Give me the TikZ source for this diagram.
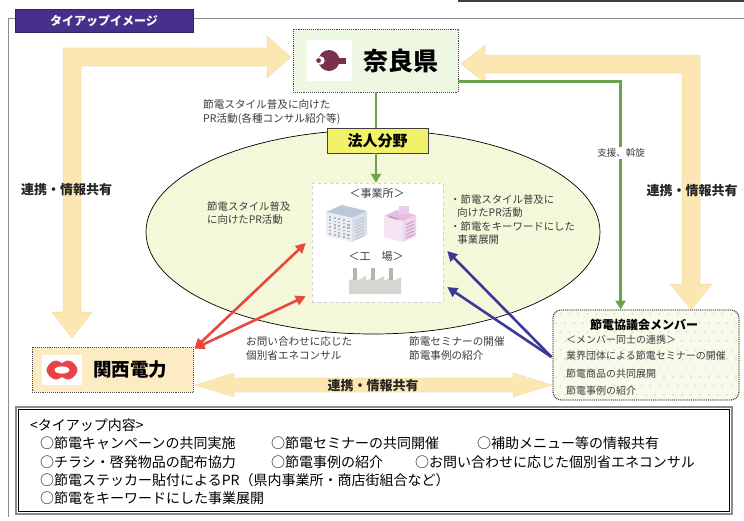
\documentclass[tikz,border=0pt]{standalone}
\usepackage{fontspec}
\setmainfont{Noto Sans CJK JP}
\usetikzlibrary{arrows.meta,calc,shapes.geometric}

\definecolor{framegray}{HTML}{8C8C8C}
\definecolor{tabpurple}{HTML}{46308C}
\definecolor{narafill}{HTML}{EEF7E2}
\definecolor{naramark}{HTML}{7A3150}
\definecolor{kanfill}{HTML}{FCEBC3}
\definecolor{kanred}{HTML}{E8424A}
\definecolor{hojinfill}{HTML}{F2F26A}
\definecolor{ellfill}{HTML}{F4F8D8}
\definecolor{kyofill}{HTML}{F8FAEC}
\definecolor{kyodot}{HTML}{E0E8B4}
\definecolor{blockfill}{HTML}{FCE7B3}
\definecolor{blockedge}{HTML}{F1CF8A}
\definecolor{greenline}{HTML}{6BA34A}
\definecolor{redline}{HTML}{E9483C}
\definecolor{blueline}{HTML}{3B3A96}
\definecolor{txtgray}{HTML}{3C3C3C}
\definecolor{bldblue}{HTML}{A9BAD3}
\definecolor{bldpink}{HTML}{E3B6E0}
\definecolor{factgray}{HTML}{D4D6D2}

% a field of small staggered dots: x0, y0, x1, y1, spacing, colour
\newcommand\dotgrid[6]{%
  \foreach \yy [count=\rr] in {#2,\the\numexpr#2+#5\relax,...,#4}{%
    \foreach \xx in {#1,\the\numexpr#1+#5\relax,...,#3}{%
      \fill[#6] ({\xx+#5/2*mod(\rr,2)},\yy) circle (1.05pt);}}}

\tikzset{
  lbl/.style={font=\fontsize{10.6}{13.6}\selectfont, text=txtgray, align=left, inner sep=0pt},
  share/.style={font=\fontsize{13}{15}\selectfont\bfseries, text=black!85, inner sep=0pt},
  orgbox/.style={draw=black!70, densely dotted, line width=0.9pt},
  block/.style={fill=blockfill, draw=blockedge, densely dotted, line width=0.6pt},
  greenarr/.style={draw=greenline, line width=2.8pt},
  redarr/.style={draw=redline, line width=2.6pt,
    {Triangle[length=10pt,width=10pt]}-{Triangle[length=10pt,width=10pt]}},
  bluearr/.style={draw=blueline, line width=2.6pt, -{Triangle[length=10pt,width=10pt]}},
  item/.style={font=\fontsize{14}{16}\selectfont, anchor=west, inner sep=0pt},
}

\begin{document}
\begin{tikzpicture}[x=1pt,y=-1pt]
\useasboundingbox (0,0) rectangle (744,520);
\fill[white] (0,0) rectangle (744,520);

% outer frame and title tab
\draw[black!75, line width=1.4pt] (458,1) -- (744,1);
\draw[framegray, line width=0.8pt] (8,517) -- (8,18) -- (744,18);
\node[fill=tabpurple, draw=tabpurple!70!black, minimum width=178pt, minimum height=23pt,
      inner sep=0pt, text=white, font=\fontsize{12}{14}\selectfont\bfseries]
      (title) at (104,20.5) {タイアップイメージ};

% wide cooperation arrows
\filldraw[block] (63,312) -- (63,48) -- (267,48) -- (267,36) -- (291,57) -- (267,78)
  -- (267,66) -- (81,66) -- (81,312) -- (92,312) -- (72,338) -- (52,312) -- cycle;
\filldraw[block] (461,64) -- (485,45) -- (485,55) -- (700,55) -- (700,284) -- (712,284)
  -- (691,310) -- (670,284) -- (682,284) -- (682,73) -- (485,73) -- (485,83) -- cycle;
\filldraw[block] (195,385) -- (234,373) -- (234,378) -- (513,378) -- (513,373) -- (552,385)
  -- (513,397) -- (513,392) -- (234,392) -- (234,397) -- cycle;

% corporate field
\fill[ellfill] (373,232) ellipse [x radius=227pt, y radius=102pt];
\begin{scope}
  \clip (373,232) ellipse [x radius=227pt, y radius=102pt];
  \dotgrid{140}{130}{610}{340}{12}{white}
\end{scope}
\draw[black, line width=0.7pt] (373,232) ellipse [x radius=227pt, y radius=102pt];

% Nara prefecture
\node[orgbox, fill=narafill, minimum width=165pt, minimum height=63pt] (nara) at (375.5,60.5) {};
\fill[white] (307,40) rectangle (352,81);
\fill[naramark] (329,60.5) circle (10.5pt);
\fill[naramark] (338,57.5) rectangle (346,63.5);
\fill[white] (320.5,60.5) circle (4.2pt);
\fill[naramark] (318.6,60.5) circle (2.4pt);
\node[font=\fontsize{25}{27}\selectfont\bfseries, inner sep=0pt] (naratxt) at (401,61) {奈良県};

% Kansai Electric Power
\node[orgbox, fill=kanfill, minimum width=161pt, minimum height=45pt] (kansai) at (112.5,369.5) {};
\fill[white] (42,355) rectangle (82,385);
\fill[kanred] plot[smooth cycle, tension=0.6] coordinates {(46.5,370) (51,362.5) (57,360.5)
  (62,363) (67,360.5) (73,362.5) (77.5,370) (73,377.5) (67,379.5) (62,377) (57,379.5) (51,377.5)};
\fill[white] (62,370) ellipse [x radius=7.5pt, y radius=3.6pt];
\node[font=\fontsize{18.5}{20}\selectfont\bfseries, inner sep=0pt] (kantxt) at (130,370) {関西電力};

% council members
\node[orgbox, fill=kyofill, rounded corners=8pt, minimum width=186pt, minimum height=90pt] (kyogi) at (646,355) {};
\begin{scope}
  \clip[rounded corners=8pt] (554,311) rectangle (738,399);
  \dotgrid{556}{314}{740}{400}{9}{kyodot}
\end{scope}
\draw[black!70, densely dotted, line width=0.9pt, rounded corners=8pt] (553,310) rectangle (739,400);
\node[font=\fontsize{12}{14}\selectfont\bfseries, inner sep=0pt] (kyotitle) at (644,325) {節電協議会メンバー};
\node[lbl, anchor=west, font=\fontsize{10}{12}\selectfont] (kyo1) at (566,340) {＜メンバー同士の連携＞};
\node[lbl, anchor=west, font=\fontsize{10}{12}\selectfont] (kyo2) at (566,356) {業界団体による節電セミナーの開催};
\node[lbl, anchor=west, font=\fontsize{10}{12}\selectfont] (kyo3) at (566,374) {節電商品の共同展開};
\node[lbl, anchor=west, font=\fontsize{10}{12}\selectfont] (kyo4) at (566,391) {節電事例の紹介};

% corporate sector tag
\node[fill=hojinfill, draw=black!75, line width=0.8pt, minimum width=101pt, minimum height=25pt,
      inner sep=0pt, font=\fontsize{15}{17}\selectfont\bfseries] (hojin) at (377.5,140.5) {法人分野};

% offices and factories
\node[fill=white, draw=black!18, dashed, line width=0.5pt, minimum width=131pt, minimum height=119pt] (jigyo) at (377.5,242.5) {};
\node[lbl, anchor=center, font=\fontsize{11}{13}\selectfont] (office) at (377,193) {＜事業所＞};
\node[lbl, anchor=center, font=\fontsize{11}{13}\selectfont] (factory) at (376,256) {＜工　場＞};
% office building
\fill[bldblue!80!white] (326,212) -- (342,205) -- (367,211) -- (352,218) -- cycle;
\fill[bldblue!25!white] (326,212) -- (352,218) -- (352,242) -- (326,236) -- cycle;
\fill[bldblue!45!white] (352,218) -- (367,211) -- (367,235) -- (352,242) -- cycle;
\foreach \wc in {0,...,4}
  \foreach \wr in {0,...,5}
    \fill[black!30] ({329+4.6*\wc},{216+3.4*\wr+1.15*\wc}) rectangle ++(2.2,1.6);
\foreach \wr in {0,...,6}
  \fill[black!22] (355,{221+3*\wr}) -- ++(9,-4) -- ++(0,1.2) -- ++(-9,4) -- cycle;
% pink building
\fill[bldpink!90!white] (384,216) -- (397,210) -- (416,215) -- (403,221) -- cycle;
\fill[bldpink!35!white] (384,216) -- (403,221) -- (403,242) -- (384,237) -- cycle;
\fill[bldpink!60!white] (403,221) -- (416,215) -- (416,236) -- (403,242) -- cycle;
\fill[bldpink!70!white] (399,206) rectangle (409,214);
\fill[black!35] (389,216) -- (398,218.5) -- (398,220) -- (389,217.5) -- cycle;
\foreach \wr in {0,...,4}
  \fill[bldpink!90!black] (406,{224+3.3*\wr}) -- ++(8,-3.5) -- ++(0,1.3) -- ++(-8,3.5) -- cycle;
% factory
\fill[factgray] (349,294) -- (349,281) -- (357,276) -- (357,281) -- (366,276) -- (366,281)
  -- (375,276) -- (375,281) -- (384,276) -- (384,281) -- (393,276) -- (393,281)
  -- (401,277) -- (401,294) -- cycle;
\fill[factgray!85!black] (353,268) rectangle (356.5,280);
\fill[factgray!85!black] (371,268) rectangle (374.5,280);
\fill[factgray!85!black] (389,268) rectangle (392.5,280);

% labels
\node[lbl, anchor=north west] (prtop) at (203,99.5) {節電スタイル普及に向けた\\PR活動(各種コンサル紹介等)};
\node[lbl, anchor=north west, font=\fontsize{10.4}{13.4}\selectfont] (prleft) at (207,201.5) {節電スタイル普及\\に向けたPR活動};
\node[lbl, anchor=north west, font=\fontsize{10.4}{13.4}\selectfont] (prright) at (450,194.5)
  {・節電スタイル普及に\\\hspace*{0.7em}向けたPR活動\\・節電をキーワードにした\\\hspace*{0.7em}事業展開};
\node[lbl, anchor=north west] (consult) at (246,336.5) {お問い合わせに応じた\\個別省エネコンサル};
\node[lbl, anchor=north west] (seminar) at (409,336.5) {節電セミナーの開催\\節電事例の紹介};

% green support lines
\draw[greenarr] (nara.south -| 376,0) -- (hojin.north -| 376,0);
\draw[greenarr, -{Triangle[length=9pt,width=10pt]}] (hojin.south -| 376,0) -- (jigyo.north -| 376,0);
\draw[greenarr, -{Triangle[length=9pt,width=10pt]}] ($(nara.south east)+(0,-11)$) -| ($(kyogi.north west)+(68,0)$);
\node[lbl, fill=white, inner sep=1.5pt, font=\fontsize{9.5}{11}\selectfont] (support) at (621,153) {支援、斡旋};

% consulting and seminar arrows
\coordinate (kanout) at ($(kansai.north east)+(1,2)$);
\draw[redarr] (kanout) -- ($(jigyo.west)+(-6,0.5)$);
\draw[redarr] (kanout) -- ($(jigyo.south west)+(-6,-6)$);
\coordinate (kyoout) at ($(kyogi.west)+(-1,2)$);
\draw[bluearr] (kyoout) -- ($(jigyo.east)+(4,8.5)$);
\draw[bluearr] (kyoout) -- ($(jigyo.east)+(4,44.5)$);

% cooperation labels
\node[share] (shareL) at (66.5,190) {連携・情報共有};
\node[share] (shareR) at (692,191) {連携・情報共有};
\node[share] (shareB) at (373,386) {連携・情報共有};

% tie-up contents
\draw[black!45, line width=2.6pt] (16,407) rectangle (732,514);
\draw[black, line width=0.5pt] (18.5,409.5) rectangle (729.5,511.5);
\node[item] (head) at (30,425) {<タイアップ内容>};
\node[item] (i1) at (40,443) {○節電キャンペーンの共同実施};
\node[item] (i2) at (271,443) {○節電セミナーの共同開催};
\node[item] (i3) at (477,443) {○補助メニュー等の情報共有};
\node[item] (i4) at (40,462) {○チラシ・啓発物品の配布協力};
\node[item] (i5) at (271,462) {○節電事例の紹介};
\node[item] (i6) at (415,462) {○お問い合わせに応じた個別省エネコンサル};
\node[item] (i7) at (40,480) {○節電ステッカー貼付によるPR（県内事業所・商店街組合など）};
\node[item] (i8) at (40,498) {○節電をキーワードにした事業展開};
\end{tikzpicture}
\end{document}
